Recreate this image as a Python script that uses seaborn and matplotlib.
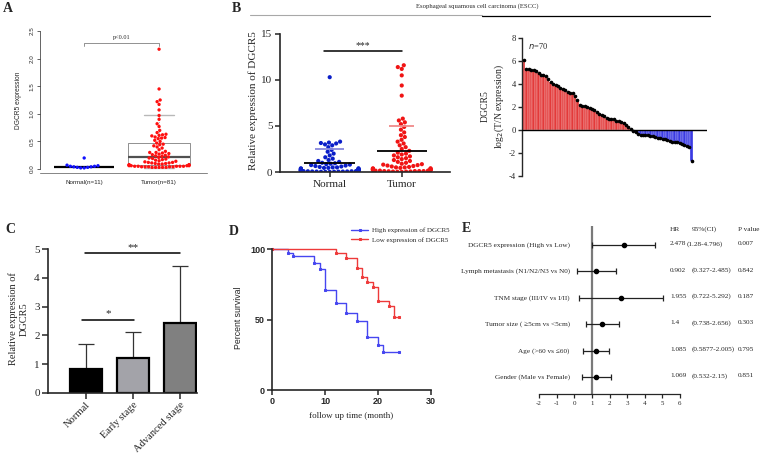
import numpy as np
import pandas as pd
import matplotlib.pyplot as plt
import seaborn as sns
from matplotlib.lines import Line2D

# --- dados ---

# painel A
normal_a = [0.20, 0.07, 0.06, 0.05, 0.05, 0.04, 0.04, 0.03, 0.03, 0.02, 0.02]
tumor_a = [2.17, 1.45, 1.25, 1.22, 1.17, 1.07, 0.97, 0.90, 0.82, 0.77,
           0.70, 0.66, 0.63, 0.62, 0.61, 0.60, 0.58, 0.57, 0.56, 0.55,
           0.52, 0.50, 0.47, 0.45, 0.44, 0.42, 0.40, 0.38, 0.35, 0.32,
           0.30, 0.30, 0.29, 0.28, 0.27, 0.26, 0.25, 0.24, 0.23, 0.22,
           0.21, 0.20, 0.19, 0.18, 0.17, 0.16, 0.15, 0.14, 0.13, 0.12,
           0.12, 0.11, 0.11, 0.10, 0.10, 0.09, 0.09, 0.08, 0.08, 0.07,
           0.07, 0.07, 0.06, 0.06, 0.06, 0.06, 0.05, 0.05, 0.05, 0.05,
           0.05, 0.04, 0.04, 0.04, 0.04, 0.04, 0.03, 0.03, 0.03, 0.03, 0.03]
labels_a = ['Normal(n=11)', 'Tumor(n=81)']
normal_med_a = 0.04
tumor_box_a = dict(q1=0.08, med=0.22, q3=0.47, whislo=0.02, whishi=0.97)

# painel B (scatter)
normal_b = [10.3, 3.3, 3.2, 3.15, 3.1, 3.0, 2.9, 2.7, 2.4, 2.2, 2.0, 1.8, 1.6, 1.45,
            1.3, 1.2, 1.1, 1.0, 0.95, 0.9, 0.85, 0.8, 0.75, 0.7, 0.65, 0.6, 0.55,
            0.5, 0.5, 0.45, 0.45, 0.4, 0.4, 0.35, 0.35, 0.3, 0.3, 0.3, 0.25, 0.25,
            0.25, 0.2, 0.2, 0.2, 0.2, 0.15, 0.15, 0.15, 0.15, 0.1, 0.1, 0.1, 0.1,
            0.1, 0.08, 0.08, 0.06, 0.06, 0.05, 0.05, 0.04, 0.03, 0.03, 0.02, 0.02]
tumor_b = [11.6, 11.4, 11.2, 10.5, 9.4, 8.3, 5.8, 5.6, 5.4, 5.2, 4.9, 4.6, 4.3, 4.0,
           3.8, 3.5, 3.3, 3.1, 2.9, 2.7, 2.5, 2.3, 2.1, 2.0, 1.9, 1.8, 1.7, 1.6,
           1.5, 1.4, 1.3, 1.2, 1.1, 1.0, 0.9, 0.85, 0.8, 0.75, 0.7, 0.65, 0.6,
           0.55, 0.5, 0.5, 0.45, 0.4, 0.4, 0.35, 0.35, 0.3, 0.3, 0.3, 0.25, 0.25,
           0.2, 0.2, 0.2, 0.15, 0.15, 0.15, 0.1, 0.1, 0.1, 0.1, 0.08, 0.06, 0.05,
           0.04, 0.03, 0.02]
mean_b = [1.0, 2.3]
sd_top_b = [2.45, 4.95]

# painel B (waterfall, n=70)
log2_tn = [6.1, 5.3, 5.3, 5.25, 5.2, 5.1, 4.95, 4.8, 4.75, 4.7,
           4.4, 4.15, 4.0, 3.95, 3.8, 3.65, 3.55, 3.45, 3.3, 3.25,
           3.2, 2.95, 2.6, 2.15, 2.1, 2.05, 2.0, 1.9, 1.8, 1.75,
           1.6, 1.4, 1.3, 1.25, 1.05, 1.0, 1.0, 0.95, 0.8, 0.75,
           0.7, 0.6, 0.45, 0.25, 0.1, -0.1, -0.2, -0.35, -0.4, -0.4,
           -0.4, -0.45, -0.5, -0.55, -0.6, -0.65, -0.7, -0.75, -0.8, -0.9,
           -0.95, -1.0, -1.0, -1.05, -1.15, -1.25, -1.3, -1.35, -1.45, -2.7]

# painel C
stages = ['Normal', 'Early stage', 'Advanced stage']
stage_mean = [0.83, 1.2, 2.42]
stage_top = [1.7, 2.12, 4.4]

# painel D (Kaplan-Meier)
high_t = [0, 3, 4, 8, 9, 10, 12, 14, 16, 18, 20, 21, 24]
high_s = [100, 97.5, 95, 90.5, 86, 71, 61.5, 54.5, 49, 37.5, 32, 27, 27]
low_t = [0, 12, 14, 16, 17, 18, 19, 20, 22, 23, 24]
low_s = [100, 97.5, 94, 87, 80, 77, 73.5, 63, 59.5, 52, 52]

# painel E (forest)
fatores = ['DGCR5 expression (High vs Low)', 'Lymph metastasis (N1/N2/N3 vs N0)',
           'TNM stage (III/IV vs I/II)', 'Tumor size ( \u22655cm vs <5cm)',
           'Age (>60 vs \u226460)', 'Gender (Male vs Female)']
hr_plot = [2.82, 1.23, 2.65, 1.59, 1.21, 1.25]
ci_lo = [1.02, 0.14, 0.29, 0.65, 0.5, 0.42]
ci_hi = [4.58, 2.35, 5.05, 2.56, 1.97, 2.08]
hr_txt = ['2.478', '0.902', '1.955', '1.4', '1.085', '1.069']
ci_txt = ['(1.28-4.796)', '(0.327-2.485)', '(0.722-5.292)', '(0.738-2.656)',
          '(0.5877-2.005)', '(0.532-2.15)']
p_txt = ['0.007', '0.842', '0.187', '0.303', '0.795', '0.851']

# --- figura ---

sns.set_style('ticks')
plt.rcParams['font.family'] = ['Liberation Serif', 'DejaVu Serif']
plt.rcParams['axes.linewidth'] = 1.0
plt.rcParams['axes.unicode_minus'] = False
SANS = ['Liberation Sans', 'DejaVu Sans']

W, H = 760, 458
fig = plt.figure(figsize=(W / 100, H / 100), dpi=100)


def px_axes(l, t, r, b):
    return fig.add_axes([l / W, 1 - b / H, (r - l) / W, (b - t) / H])


# --- painel A ---
axA = px_axes(40, 28, 207, 173)
dfA = pd.DataFrame({'grupo': [labels_a[0]] * len(normal_a) + [labels_a[1]] * len(tumor_a),
                    'valor': normal_a + tumor_a})
axA.hlines(normal_med_a, -0.4, 0.4, color='black', lw=1.6, zorder=1)
axA.bxp([dict(label='', fliers=[], **tumor_box_a)], positions=[1], widths=0.82,
        capwidths=0.39, showfliers=False,
        boxprops=dict(color='#909090', lw=0.7),
        medianprops=dict(color='#505050', lw=1.6),
        whiskerprops=dict(color='#b0b0b0', lw=0.7, ls=':'),
        capprops=dict(color='#b8b8b8', lw=1.0), manage_ticks=False, zorder=1)
sns.swarmplot(data=dfA, x='grupo', y='valor', hue='grupo', order=labels_a,
              palette={labels_a[0]: '#1010ff', labels_a[1]: '#ff1010'},
              size=2.4, legend=False, ax=axA, zorder=3)
axA.set_xlim(-0.59, 1.64)
axA.set_ylim(-0.072, 2.554)
axA.set_yticks(np.arange(0, 2.51, 0.5))
axA.set_yticklabels([f'{v:.1f}' for v in np.arange(0, 2.51, 0.5)], rotation=90,
                    va='center', family=SANS, fontsize=4.5)
axA.set_xticks([0, 1])
axA.set_xticklabels(labels_a, family=SANS, fontsize=4.5)
axA.tick_params(axis='x', length=0, pad=5)
axA.tick_params(axis='y', length=2, width=0.5, pad=2)
for s in ['top', 'right']:
    axA.spines[s].set_visible(False)
axA.spines['left'].set_bounds(0, 2.5)
axA.spines['left'].set_linewidth(0.5)
axA.spines['bottom'].set_linewidth(0.5)
axA.spines['bottom'].set_color('#555555')
axA.set_xlabel('')
axA.set_ylabel('DGCR5 expression', family=SANS, fontsize=4.8, labelpad=5)
axA.plot([0, 0, 1, 1], [2.22, 2.28, 2.28, 2.22], color='#808080', lw=0.6)
axA.text(0.5, 2.34, 'p<0.01', ha='center', va='bottom', fontsize=4.5)

# --- painel B (scatter) ---
axB = px_axes(280, 30, 450, 172)
dfB = pd.DataFrame({'grupo': ['Normal'] * len(normal_b) + ['Tumor'] * len(tumor_b),
                    'valor': normal_b + tumor_b})
sns.swarmplot(data=dfB, x='grupo', y='valor', hue='grupo', order=['Normal', 'Tumor'],
              palette={'Normal': '#0a1ec8', 'Tumor': '#f01414'}, size=3.0,
              warn_thresh=1, legend=False, ax=axB, zorder=2)
axB.hlines(mean_b[0], -0.35, 0.35, color='black', lw=1.3, zorder=3)
axB.hlines(sd_top_b[0], -0.2, 0.2, color='#8888dd', lw=1.3, zorder=3)
axB.hlines(mean_b[1], 1 - 0.35, 1 + 0.35, color='black', lw=1.3, zorder=3)
axB.hlines(sd_top_b[1], 1 - 0.17, 1 + 0.17, color='#f08a8a', lw=1.3, zorder=3)
axB.plot([-0.08, 1.0], [13.1, 13.1], color='black', lw=1.1)
axB.text(0.46, 13.25, '***', ha='center', va='bottom', fontsize=7)
axB.set_xlim(-0.69, 1.67)
axB.set_ylim(0, 15.43)
axB.set_yticks([0, 5, 10, 15])
axB.tick_params(labelsize=8, length=3.5, width=1.1, pad=2)
for s in ['top', 'right']:
    axB.spines[s].set_visible(False)
axB.spines['left'].set_bounds(0, 15)
axB.spines['left'].set_linewidth(1.2)
axB.spines['bottom'].set_linewidth(1.2)
axB.set_xlabel('')
axB.set_ylabel('Relative expression of DGCR5', fontsize=8, labelpad=2)

# --- painel B (waterfall) ---
axW = px_axes(522, 35, 707, 178)
idx = list(range(len(log2_tn)))
cores = ['#ff1e1e' if v > 0 else '#1e1eff' for v in log2_tn]
sns.barplot(x=idx, y=log2_tn, hue=idx, palette=cores, width=1.0, edgecolor='white',
            linewidth=0.2, legend=False, ax=axW, zorder=2)
axW.plot(idx, log2_tn, 'o', color='black', ms=1.6, zorder=3)
axW.axhline(0, color='black', lw=1.0, zorder=4)
axW.set_xlim(-0.8, 75.3)
axW.set_ylim(-4.17, 8.26)
axW.set_yticks(range(-4, 9, 2))
axW.set_xticks([])
axW.tick_params(labelsize=6.2, length=3, width=1, pad=1.5)
for s in ['top', 'right', 'bottom']:
    axW.spines[s].set_visible(False)
axW.spines['left'].set_bounds(-4, 8)
axW.set_ylabel('DGCR5\nlog$_2$(T/N expression)', fontsize=7, labelpad=2,
               linespacing=1.3)
axW.text(0.03, 0.96, '$n$=70', transform=axW.transAxes, ha='left', va='top', fontsize=6)

# banner ESCC
fig.text(477 / W, 1 - 6 / H, 'Esophageal squamous cell carcinoma (ESCC)',
         ha='center', va='center', fontsize=4.8)
fig.add_artist(Line2D([250 / W, 482 / W], [1 - 15 / H] * 2, color='#a8a8a8', lw=0.8))
fig.add_artist(Line2D([482 / W, 710 / W], [1 - 15.5 / H] * 2, color='black', lw=0.9))

# --- painel C ---
axC = px_axes(48, 245, 197, 393)
sns.barplot(x=stages, y=stage_mean, hue=stages, order=stages,
            palette=['#000000', '#a2a2aa', '#808080'], edgecolor='black',
            linewidth=1.6, width=0.68, legend=False, ax=axC, zorder=2)
erros = [t - m for t, m in zip(stage_top, stage_mean)]
axC.errorbar([0, 1, 2], stage_mean, yerr=[[0, 0, 0], erros], fmt='none',
             ecolor='#333333', elinewidth=0.9, capsize=5.5, capthick=0.9, zorder=1)
axC.plot([-0.09, 1.02], [2.53, 2.53], color='black', lw=1.1)
axC.text(0.47, 2.6, '*', ha='center', va='bottom', fontsize=8)
axC.plot([-0.02, 2.0], [4.86, 4.86], color='black', lw=1.1)
axC.text(1.0, 4.9, '**', ha='center', va='bottom', fontsize=8)
axC.set_xlim(-0.81, 2.36)
axC.set_ylim(0, 5.14)
axC.set_yticks(range(0, 6))
axC.tick_params(labelsize=8, length=4, width=1.1, pad=2)
axC.set_xticks([0, 1, 2])
axC.set_xticklabels(stages, rotation=45, ha='right', rotation_mode='anchor', fontsize=7.6)
axC.tick_params(axis='x', pad=1.5)
for s in ['top', 'right']:
    axC.spines[s].set_visible(False)
axC.spines['left'].set_bounds(0, 5)
axC.spines['left'].set_linewidth(1.2)
axC.spines['bottom'].set_linewidth(1.2)
axC.set_xlabel('')
axC.set_ylabel('Relative expression of\nDGCR5', fontsize=7.5, labelpad=4, linespacing=1.2)

# --- painel D ---
axD = px_axes(272, 245, 431, 390)
sns.lineplot(x=high_t, y=high_s, drawstyle='steps-post', color='#4646f0', lw=1.0,
             marker='s', ms=2, mec='#4646f0', label='High expression of DGCR5',
             estimator=None, ax=axD)
sns.lineplot(x=low_t, y=low_s, drawstyle='steps-post', color='#ee3a3a', lw=1.0,
             marker='s', ms=2, mec='#ee3a3a', label='Low expression of DGCR5',
             estimator=None, ax=axD)
axD.set_xlim(0, 30)
axD.set_ylim(0, 103)
axD.set_xticks([0, 10, 20, 30])
axD.set_yticks([0, 50, 100])
for lab in axD.get_xticklabels() + axD.get_yticklabels():
    lab.set_family(SANS)
    lab.set_fontweight('bold')
    lab.set_fontsize(6.5)
axD.tick_params(length=3.5, width=1.1, pad=1.5)
for s in ['top', 'right']:
    axD.spines[s].set_visible(False)
axD.spines['left'].set_bounds(0, 100)
axD.spines['left'].set_linewidth(1.2)
axD.spines['bottom'].set_linewidth(1.2)
axD.set_xlabel('follow up time (month)', fontsize=6.5, labelpad=4)
axD.set_ylabel('Percent survival', family=SANS, fontsize=6.3, labelpad=5)
axD.legend(loc='upper left', bbox_to_anchor=(348 / W, 1 - 224 / H),
           bbox_transform=fig.transFigure, frameon=False, fontsize=5,
           handlelength=2.4, handletextpad=0.6, labelspacing=0.5, borderpad=0)

# --- painel E ---
axE = px_axes(539, 226, 680, 394)
linhas = np.arange(len(fatores))
hr = np.array(hr_plot)
axE.axvline(1, color='#7a7a7a', lw=1.6, zorder=1)
axE.errorbar(hr, linhas, xerr=[hr - np.array(ci_lo), np.array(ci_hi) - hr], fmt='o',
             color='black', ecolor='#222222', ms=3, elinewidth=0.9, capsize=2,
             capthick=0.9, zorder=3)
axE.set_xlim(-2, 6)
axE.set_ylim(5.64, -0.72)
axE.set_xticks(range(-2, 7))
axE.set_yticks([])
axE.tick_params(axis='x', labelsize=5, length=3, width=0.9, pad=2)
for s in ['top', 'right', 'left']:
    axE.spines[s].set_visible(False)
axE.spines['bottom'].set_linewidth(0.9)
for i, nome in enumerate(fatores):
    axE.text(-0.25, i, nome, ha='right', va='center', fontsize=5.2, clip_on=False)
    axE.text(5.44, i - 0.05, hr_txt[i], ha='left', va='center', fontsize=5.2, clip_on=False)
    axE.text(6.64 if i else 6.4, i - 0.05, ci_txt[i], ha='left', va='center',
             fontsize=5.2, clip_on=False)
    axE.text(9.25, i - 0.05, p_txt[i], ha='left', va='center', fontsize=5.2, clip_on=False)
axE.text(5.44, -0.6, 'HR', ha='left', va='center', fontsize=5.2, clip_on=False)
axE.text(6.64, -0.6, '95%(CI)', ha='left', va='center', fontsize=5.2, clip_on=False)
axE.text(9.3, -0.6, 'P value', ha='left', va='center', fontsize=5.2, clip_on=False)

# --- letras dos paineis ---
for letra, (x, y) in {'A': (8, 8), 'B': (236, 8), 'C': (10, 230),
                      'D': (234, 232), 'E': (466, 228)}.items():
    fig.text(x / W, 1 - y / H, letra, fontsize=10, fontweight='bold',
             ha='center', va='center')

fig.savefig('out.png', dpi=100)
